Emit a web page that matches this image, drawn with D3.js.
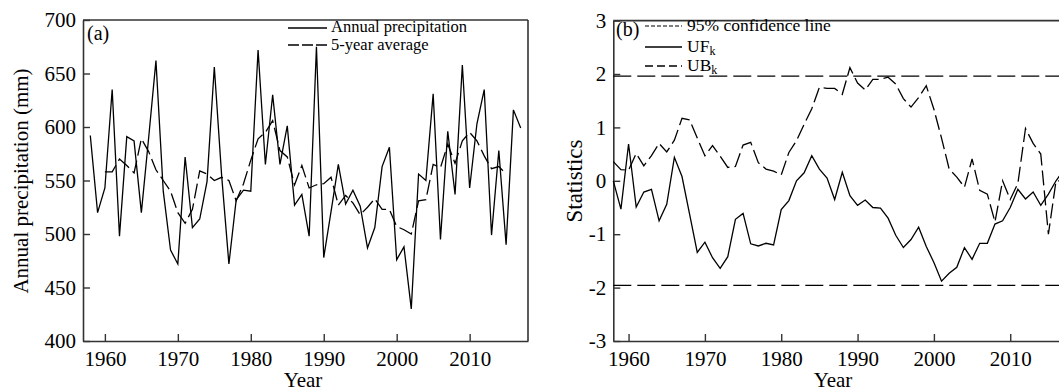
<!DOCTYPE html>
<html><head><meta charset="utf-8">
<script src="https://cdn.jsdelivr.net/npm/d3@7"></script>
<style>
body{margin:0;background:#fff;}
svg{display:block;font-family:"Liberation Serif","Times New Roman",serif;}
</style></head><body>
<svg id="chart" width="1059" height="392"></svg>
<script>
// Observation years
const years = [1958,1959,1960,1961,1962,1963,1964,1965,1966,1967,1968,1969,1970,1971,1972,1973,1974,1975,1976,1977,
  1978,1979,1980,1981,1982,1983,1984,1985,1986,1987,1988,1989,1990,1991,1992,1993,1994,1995,1996,1997,
  1998,1999,2000,2001,2002,2003,2004,2005,2006,2007,2008,2009,2010,2011,2012,2013,2014,2015,2016,2017];

// Annual precipitation (mm)
const precipitation = [592,520,543,635,498,591,587,520,590,662,540,485,472,572,506,514,549,656,555,472,
  532,541,540,672,565,630,565,601,527,537,498,675,478,521,565,528,541,526,487,506,
  563,581,476,488,430,556,550,631,495,596,537,658,543,603,635,499,578,490,616,599];

// Centred 5-year moving average (1960-2015)
const avgYears = years.slice(2, 58);
const fiveYearAvg = [558,558,570,564,557,589,577,560,550,540,520,510,523,559,556,550,553,550,531,547,
  569,589,595,606,578,572,546,564,543,546,547,553,527,536,529,518,525,533,523,523,
  507,504,500,531,532,565,562,584,566,587,595,587,573,561,563,556];

// Mann-Kendall statistics
const ufk = [0,-0.53,0.69,-0.49,-0.21,-0.16,-0.75,-0.44,0.44,0.08,-0.63,-1.34,-1.15,-1.44,-1.64,-1.42,-0.72,-0.61,-1.18,-1.22,
  -1.17,-1.2,-0.54,-0.37,0,0.15,0.47,0.22,0.05,-0.35,0.16,-0.28,-0.46,-0.36,-0.5,-0.51,-0.7,-1.02,-1.25,-1.1,
  -0.87,-1.23,-1.53,-1.88,-1.73,-1.62,-1.25,-1.47,-1.17,-1.17,-0.81,-0.75,-0.5,-0.16,-0.34,-0.21,-0.46,-0.25,0,0.2];
const ubk = [0.36,0.21,0.2,0.51,0.28,0.47,0.7,0.54,0.76,1.17,1.14,0.8,0.47,0.66,0.46,0.25,0.27,0.67,0.72,0.34,
  0.22,0.18,0.11,0.53,0.75,1.06,1.35,1.75,1.73,1.73,1.62,2.12,1.83,1.7,1.9,1.9,1.94,1.81,1.54,1.38,
  1.56,1.78,1.34,0.8,0.22,0.07,-0.12,0.41,-0.18,-0.25,-0.77,0,-0.35,-0.05,0.98,0.7,0.5,-1,0,0];
const confidence = [1.96, -1.96];

// Tick values
const yearTicks = [1960,1970,1980,1990,2000,2010];
const precipTicks = [400,450,500,550,600,650,700];
const statTicks = [-3,-2,-1,0,1,2,3];

const svg = d3.select("#chart");
svg.append("rect").attr("width",1059).attr("height",392).attr("fill","#fff");

const AXIS = "#333";
const FS = 21;

function frame(g, x, y, xTicks, yTicks, yFmt) {
  const [x0, x1] = x.range();
  const [yb, yt] = y.range();
  const ax = g.append("g").attr("transform", `translate(0,${yb})`)
    .call(d3.axisBottom(x).tickValues(xTicks).tickSizeInner(-7).tickSizeOuter(0).tickPadding(10).tickFormat(d3.format("d")));
  const ay = g.append("g").attr("transform", `translate(${x0},0)`)
    .call(d3.axisLeft(y).tickValues(yTicks).tickSizeInner(-7).tickSizeOuter(0).tickPadding(7).tickFormat(yFmt));
  [ax, ay].forEach(a => {
    a.select(".domain").attr("stroke", AXIS).attr("stroke-width", 1.6);
    a.selectAll(".tick line").attr("stroke", AXIS).attr("stroke-width", 1.4);
    a.selectAll(".tick text").attr("fill", "#000").attr("font-size", FS)
      .attr("font-family", '"Liberation Serif","Times New Roman",serif');
  });
  g.append("line").attr("x1", x0).attr("x2", x1).attr("y1", yt).attr("y2", yt)
    .attr("stroke", AXIS).attr("stroke-width", 1.6);
  return {ax, ay};
}

// ---------- Panel (a): annual precipitation ----------
const gA = svg.append("g");
const xA = d3.scaleLinear().domain([1957, 2018]).range([83, 528]);
const yA = d3.scaleLinear().domain([400, 700]).range([341, 20]);
frame(gA, xA, yA, yearTicks, precipTicks, d3.format("d"));
gA.append("line").attr("x1", 528).attr("x2", 528).attr("y1", 20).attr("y2", 341)
  .attr("stroke", AXIS).attr("stroke-width", 1.6);

const lineA = d3.line().x(d => xA(d[0])).y(d => yA(d[1]));
gA.append("path").datum(d3.zip(years, precipitation)).attr("d", lineA)
  .attr("fill", "none").attr("stroke", "#000").attr("stroke-width", 1.3).attr("stroke-linejoin", "miter");
gA.append("path").datum(d3.zip(avgYears, fiveYearAvg)).attr("d", lineA)
  .attr("fill", "none").attr("stroke", "#000").attr("stroke-width", 1.3).attr("stroke-dasharray", "15,5");

gA.append("text").attr("x", 87).attr("y", 40).attr("font-size", 20).text("(a)");
gA.append("text").attr("x", 303).attr("y", 387).attr("text-anchor", "middle").attr("font-size", FS).text("Year");
gA.append("text").attr("transform", "translate(28,181) rotate(-90)").attr("text-anchor", "middle")
  .attr("font-size", FS).text("Annual precipitation (mm)");

// legend (a)
const legA = gA.append("g");
legA.append("line").attr("x1", 288).attr("x2", 327).attr("y1", 28).attr("y2", 28).attr("stroke", "#000").attr("stroke-width", 1.3);
legA.append("line").attr("x1", 288).attr("x2", 327).attr("y1", 45).attr("y2", 45).attr("stroke", "#000").attr("stroke-width", 1.3).attr("stroke-dasharray", "11,3");
legA.append("text").attr("x", 331).attr("y", 32).attr("font-size", 16.5).text("Annual precipitation");
legA.append("text").attr("x", 331).attr("y", 49.5).attr("font-size", 16.5).text("5-year average");

// ---------- Panel (b): Mann-Kendall test ----------
const gB = svg.append("g");
const xB = d3.scaleLinear().domain([1958, 2018]).range([613.3, 1071.3]);
const yB = d3.scaleLinear().domain([-3, 3]).range([341, 20.6]);
frame(gB, xB, yB, yearTicks, statTicks, d => d < 0 ? "-" + Math.abs(d) : String(d));

gB.selectAll(".conf").data(confidence).join("line").attr("class", "conf")
  .attr("x1", xB(1958)).attr("x2", xB(2018)).attr("y1", d => yB(d)).attr("y2", d => yB(d))
  .attr("stroke", "#000").attr("stroke-width", 1.3).attr("stroke-dasharray", "18,6");

const lineB = d3.line().x(d => xB(d[0])).y(d => yB(d[1]));
gB.append("path").datum(d3.zip(years, ufk)).attr("d", lineB)
  .attr("fill", "none").attr("stroke", "#000").attr("stroke-width", 1.3);
gB.append("path").datum(d3.zip(years, ubk)).attr("d", lineB)
  .attr("fill", "none").attr("stroke", "#000").attr("stroke-width", 1.3).attr("stroke-dasharray", "15,5");

gB.append("text").attr("x", 616).attr("y", 36).attr("font-size", 20).text("(b)");
gB.append("text").attr("x", 833).attr("y", 387).attr("text-anchor", "middle").attr("font-size", FS).text("Year");
gB.append("text").attr("transform", "translate(582,181) rotate(-90)").attr("text-anchor", "middle")
  .attr("font-size", 23).text("Statistics");

// legend (b)
const legB = gB.append("g");
legB.append("line").attr("x1", 645).attr("x2", 682).attr("y1", 26).attr("y2", 26).attr("stroke", "#000").attr("stroke-width", 1.2).attr("stroke-dasharray", "4,2");
legB.append("line").attr("x1", 645).attr("x2", 682).attr("y1", 47).attr("y2", 47).attr("stroke", "#000").attr("stroke-width", 1.3);
legB.append("line").attr("x1", 645).attr("x2", 682).attr("y1", 66).attr("y2", 66).attr("stroke", "#000").attr("stroke-width", 1.3).attr("stroke-dasharray", "8,4");
legB.append("text").attr("x", 687).attr("y", 31).attr("font-size", 17.5).text("95% confidence line");
const uf = legB.append("text").attr("x", 687).attr("y", 52).attr("font-size", 17.5);
uf.append("tspan").text("UF");
uf.append("tspan").attr("font-size", 12).attr("dy", 3).text("k");
const ub = legB.append("text").attr("x", 687).attr("y", 71).attr("font-size", 17.5);
ub.append("tspan").text("UB");
ub.append("tspan").attr("font-size", 12).attr("dy", 3).text("k");
</script>
</body></html>
